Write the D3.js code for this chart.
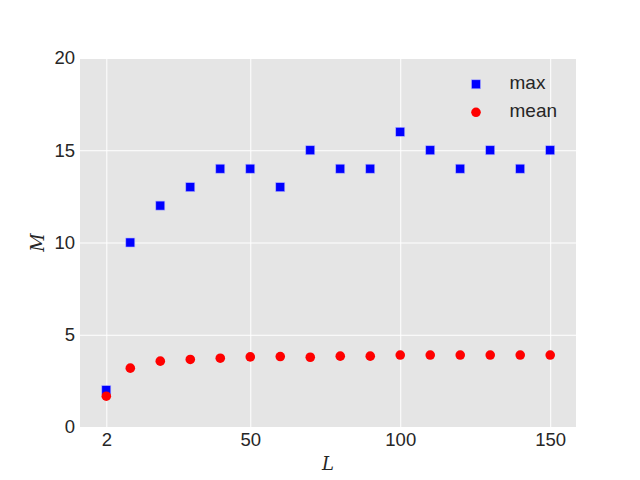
<!DOCTYPE html>
<html><head><meta charset="utf-8">
<script src="https://cdn.jsdelivr.net/npm/d3@7"></script>
<style>body{margin:0;background:#fff}svg{display:block}</style>
</head><body>
<script>
const L = [2,10,20,30,40,50,60,70,80,90,100,110,120,130,140,150];
const maxM = [2,10,12,13,14,14,13,15,14,14,16,15,14,15,14,15];
const meanM = [1.67,3.19,3.57,3.66,3.73,3.80,3.82,3.78,3.84,3.84,3.90,3.90,3.90,3.90,3.90,3.90];
const xTicks = [2,50,100,150];
const yTicks = [0,5,10,15,20];
const legendLabels = ["max","mean"];

(function(){
const W=640,H=480, pL=80, pR=576, pT=58, pB=427;
const svg=d3.select("body").append("svg").attr("width",W).attr("height",H);
const x=d3.scaleLinear().domain([-6.77,158.6]).range([pL,pR]);
const y=d3.scaleLinear().domain([0,20]).range([pB,pT]);

svg.append("rect").attr("x",pL).attr("y",pT).attr("width",pR-pL).attr("height",pB-pT).attr("fill","#e5e5e5");

const font="'Liberation Sans', Arial, sans-serif";
const xAxis=svg.append("g").attr("transform",`translate(0,${pB})`)
  .call(d3.axisBottom(x).tickValues(xTicks).tickSize(-(pB-pT)).tickPadding(6).tickFormat(d3.format("d")));
const yAxis=svg.append("g").attr("transform",`translate(${pL},0)`)
  .call(d3.axisLeft(y).tickValues(yTicks).tickSize(-(pR-pL)).tickPadding(5).tickFormat(d3.format("d")));
[xAxis,yAxis].forEach(a=>{
  a.select(".domain").remove();
  a.selectAll(".tick line").attr("stroke","#fff").attr("stroke-width",1);
  a.selectAll(".tick text").attr("fill","#262626").style("font-family",font).style("font-size","18.5px");
});

const sq=9;
svg.append("g").selectAll("rect").data(L).join("rect")
  .attr("x",(d)=>x(d)-sq/2).attr("y",(d,i)=>y(maxM[i])-sq/2)
  .attr("width",sq).attr("height",sq).attr("fill","#0000ff").attr("stroke","#b0b0ff").attr("stroke-width",0.6);
svg.append("g").selectAll("circle").data(L).join("circle")
  .attr("cx",(d)=>x(d)).attr("cy",(d,i)=>y(meanM[i])).attr("r",4.8).attr("fill","#ff0000");

const lg=svg.append("g");
lg.append("rect").attr("x",476-sq/2).attr("y",84.3-sq/2).attr("width",sq).attr("height",sq).attr("fill","#0000ff").attr("stroke","#b0b0ff").attr("stroke-width",0.6);
lg.append("circle").attr("cx",476).attr("cy",112.3).attr("r",4.8).attr("fill","#ff0000");
lg.selectAll("text").data(legendLabels).join("text")
  .attr("x",509.5).attr("y",(d,i)=>89+27.7*i)
  .attr("fill","#262626").style("font-family",font).style("font-size","19px").text(d=>d);

svg.append("text").attr("x",(pL+pR)/2).attr("y",470).attr("text-anchor","middle")
  .style("font-family","'DejaVu Serif', serif").style("font-style","italic").style("font-size","18px").attr("fill","#262626").text("L");
svg.append("text").attr("transform",`translate(44,${(pT+pB)/2}) rotate(-90)`).attr("text-anchor","middle")
  .style("font-family","'DejaVu Serif', serif").style("font-style","italic").style("font-size","18px").attr("fill","#262626").text("M");
})();
</script>
</body></html>
